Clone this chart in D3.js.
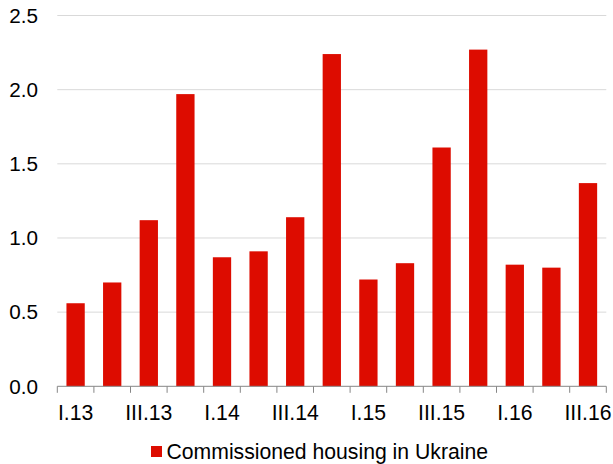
<!DOCTYPE html>
<html><head><meta charset="utf-8">
<script src="https://cdn.jsdelivr.net/npm/d3@7"></script>
<style>body{margin:0;background:#fff}svg{display:block}text{font-family:"Liberation Sans",Arial,sans-serif}</style>
</head><body>
<script>
const categories = ["I.13","II.13","III.13","IV.13","I.14","II.14","III.14","IV.14","I.15","II.15","III.15","IV.15","I.16","II.16","III.16"];
const values = [0.56,0.70,1.12,1.97,0.87,0.91,1.14,2.24,0.72,0.83,1.61,2.27,0.82,0.80,1.37];
const yTicks = [0,0.5,1.0,1.5,2.0,2.5];
const seriesName = "Commissioned housing in Ukraine";

const W = 613, H = 464;
const m = {left:57.3, right:613-606.3, top:15.5, bottom:464-386.3};
const svg = d3.select("body").append("svg").attr("width",W).attr("height",H);
const x = d3.scaleBand().domain(categories).range([m.left, W-m.right]).paddingInner(0.5).paddingOuter(0.25);
const y = d3.scaleLinear().domain([0,2.5]).range([H-m.bottom, m.top]);

// gridlines
svg.append("g").selectAll("line").data(yTicks.filter(d=>d>0)).join("line")
  .attr("x1",m.left).attr("x2",W-m.right)
  .attr("y1",d=>y(d)).attr("y2",d=>y(d))
  .attr("stroke","#d9d9d9").attr("stroke-width",1);

// y labels
svg.append("g").selectAll("text").data(yTicks).join("text")
  .attr("x",38).attr("y",d=>y(d)).attr("dy","0.35em")
  .attr("text-anchor","end").attr("font-size",20.7).attr("fill","#000")
  .text(d=>d3.format(".1f")(d));

// bars
svg.append("g").selectAll("rect").data(values).join("rect")
  .attr("x",(d,i)=>x(categories[i])).attr("width",x.bandwidth())
  .attr("y",d=>y(d)).attr("height",d=>y(0)-y(d))
  .attr("fill","#dd0c00");

// x axis line & ticks
const ax = svg.append("g");
ax.append("line").attr("x1",m.left).attr("x2",W-m.right).attr("y1",y(0)).attr("y2",y(0))
  .attr("stroke","#868686").attr("stroke-width",1);
const step = x.step();
const tickPos = d3.range(categories.length+1).map(i=>m.left + i*step);
ax.selectAll("line.t").data(tickPos).join("line").attr("class","t")
  .attr("x1",d=>d).attr("x2",d=>d).attr("y1",y(0)).attr("y2",y(0)+6.5)
  .attr("stroke","#868686").attr("stroke-width",1);
ax.selectAll("text").data(categories.filter((c,i)=>i%2===0)).join("text")
  .attr("x",d=>x(d)+x.bandwidth()/2).attr("y",419.5)
  .attr("text-anchor","middle").attr("font-size",21.2).attr("fill","#000")
  .text(d=>d);

// legend
const lg = svg.append("g");
lg.append("rect").attr("x",151).attr("y",446).attr("width",11).attr("height",11).attr("fill","#dd0c00");
lg.append("text").attr("x",166.5).attr("y",458.5).attr("font-size",21.2).attr("fill","#000").text(seriesName);
</script>
</body></html>
